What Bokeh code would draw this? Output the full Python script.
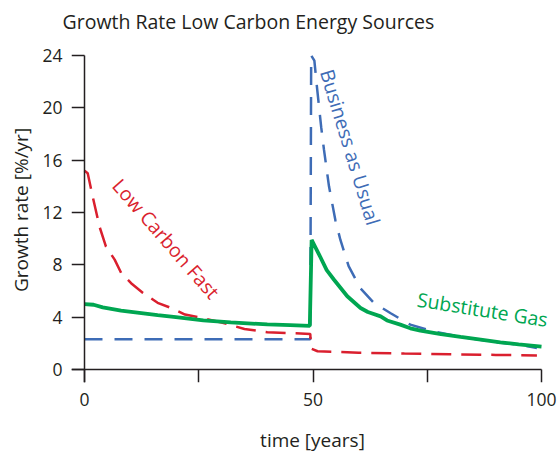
from bokeh.plotting import figure
from bokeh.models import Range1d, FixedTicker, Label, LinearAxis
from bokeh.embed import file_html
from bokeh.resources import INLINE

# ---- data ----
bau_x = [0, 49.4, 49.6, 50.3, 50.8, 51.8, 52.4, 53.5, 54.9, 56.0, 57.8, 60.4, 63.3, 67.0,
         71.3, 75.7, 82.3, 90.0, 95.0, 99.0]
bau_y = [2.32, 2.32, 24.0, 23.6, 21.8, 18.5, 16.8, 14.0, 11.4, 9.9, 7.9, 6.2, 5.1, 4.3,
         3.43, 2.97, 2.5, 2.1, 1.9, 1.65]

lcf_x = [0, 0.7, 1.8, 3.3, 4.7, 6.6, 8.0, 10.2, 12.8, 16.0, 19.0, 22.0, 25.5, 30.0, 35.0,
         40.0, 45.0, 49.4, 49.6, 51.0, 55.0, 60.0, 70.0, 80.0, 90.0, 99.0]
lcf_y = [15.2, 15.0, 13.2, 10.9, 9.4, 8.4, 7.4, 6.6, 5.85, 5.1, 4.7, 4.2, 3.95, 3.6, 3.1,
         2.85, 2.78, 2.72, 1.6, 1.4, 1.35, 1.28, 1.22, 1.17, 1.12, 1.08]

sg_x = [0, 2, 4, 8, 12, 16, 20, 26, 32, 40, 45, 49.3, 49.7, 51.6, 53.0, 54.6, 57.5, 60.4,
        62.0, 64.8, 66.2, 69.1, 71.3, 73.5, 78.0, 82.3, 86.7, 91.0, 95.0, 100.0]
sg_y = [5.0, 4.95, 4.75, 4.5, 4.33, 4.15, 4.0, 3.75, 3.6, 3.45, 3.4, 3.33, 9.9, 8.6, 7.6,
        6.86, 5.6, 4.7, 4.4, 4.06, 3.75, 3.43, 3.15, 2.97, 2.7, 2.49, 2.29, 2.08, 1.93, 1.75]

x_ticks = [0, 25, 50, 75, 100]
x_tick_labels = {25: "", 75: ""}
y_ticks = [0, 4, 8, 12, 16, 20, 24]

title_text = "Growth Rate Low Carbon Energy Sources"
x_label = "time [years]"
y_label = "Growth rate [%/yr]"

GREEN = "#00a651"
RED = "#da1f2e"
BLUE = "#3e6cb6"
INK = "#231f20"
FONT = "Open Sans"

# ranges: axis lines overshoot the origin a little, as in the reference
X0, X1 = -2.845, 102.626
Y0, Y1 = -0.99, 25.371
XMAX, YMAX = 100, 24

p = figure(width=557, height=455, output_backend="svg", toolbar_location=None,
           x_range=Range1d(X0, X1), y_range=Range1d(Y0, Y1),
           min_border_left=71, min_border_right=4, min_border_top=37, min_border_bottom=72)

p.title.text = title_text
p.title.text_font = FONT
p.title.text_font_size = "19.5px"
p.title.text_font_style = "normal"
p.title.text_color = INK
p.title.align = "left"
p.title.offset = -9
p.title.standoff = 5

p.grid.visible = False
p.outline_line_color = None

# label axes (texts only) on the frame edges
xlab = p.below[0]
ylab = p.left[0]
for ax in (xlab, ylab):
    ax.axis_line_color = None
    ax.major_tick_line_color = None
    ax.minor_tick_line_color = None
    ax.major_tick_in = 0
    ax.major_tick_out = 0
    ax.major_label_text_font = FONT
    ax.major_label_text_font_size = "17.5px"
    ax.major_label_text_color = INK
    ax.axis_label_text_font = FONT
    ax.axis_label_text_font_size = "19px"
    ax.axis_label_text_font_style = "normal"
    ax.axis_label_text_color = INK

xlab.ticker = FixedTicker(ticks=x_ticks)
xlab.major_label_overrides = x_tick_labels
xlab.major_label_standoff = 10
xlab.axis_label = x_label
xlab.axis_label_standoff = 18

ylab.ticker = FixedTicker(ticks=y_ticks)
ylab.major_label_standoff = 9
ylab.axis_label = y_label
ylab.axis_label_standoff = 5


# axis lines with outward ticks, pinned at the origin
def line_axis(ticks, bounds):
    ax = LinearAxis(fixed_location=0, bounds=bounds, ticker=FixedTicker(ticks=ticks))
    ax.axis_line_color = INK
    ax.axis_line_width = 1.5
    ax.major_tick_line_color = INK
    ax.major_tick_line_width = 1.5
    ax.major_tick_in = 13
    ax.major_tick_out = 0
    ax.minor_tick_line_color = None
    ax.major_label_overrides = {t: "" for t in ticks}
    ax.major_label_text_font_size = "1px"
    ax.major_label_standoff = 0
    return ax


p.add_layout(line_axis(x_ticks, (X0, XMAX)), "above")
p.add_layout(line_axis(y_ticks, (Y0, YMAX)), "right")

p.line(bau_x, bau_y, line_color=BLUE, line_width=2.5, line_dash="18 12")
p.line(lcf_x, lcf_y, line_color=RED, line_width=2.5, line_dash="20 10")
p.line(sg_x, sg_y, line_color=GREEN, line_width=3.8)

p.add_layout(Label(x=17.9, y=10.0, text="Low Carbon Fast", text_color=RED, angle=-49,
                   angle_units="deg", text_align="center", text_baseline="middle",
                   text_font=FONT, text_font_size="19.5px"))
p.add_layout(Label(x=58.2, y=17.0, text="Business as Usual", text_color=BLUE, angle=-73,
                   angle_units="deg", text_align="center", text_baseline="middle",
                   text_font=FONT, text_font_size="19.5px"))
p.add_layout(Label(x=87.1, y=4.6, text="Substitute Gas", text_color=GREEN, angle=-9,
                   angle_units="deg", text_align="center", text_baseline="middle",
                   text_font=FONT, text_font_size="19.5px"))

open("out.html", "w").write(file_html(p, INLINE))
